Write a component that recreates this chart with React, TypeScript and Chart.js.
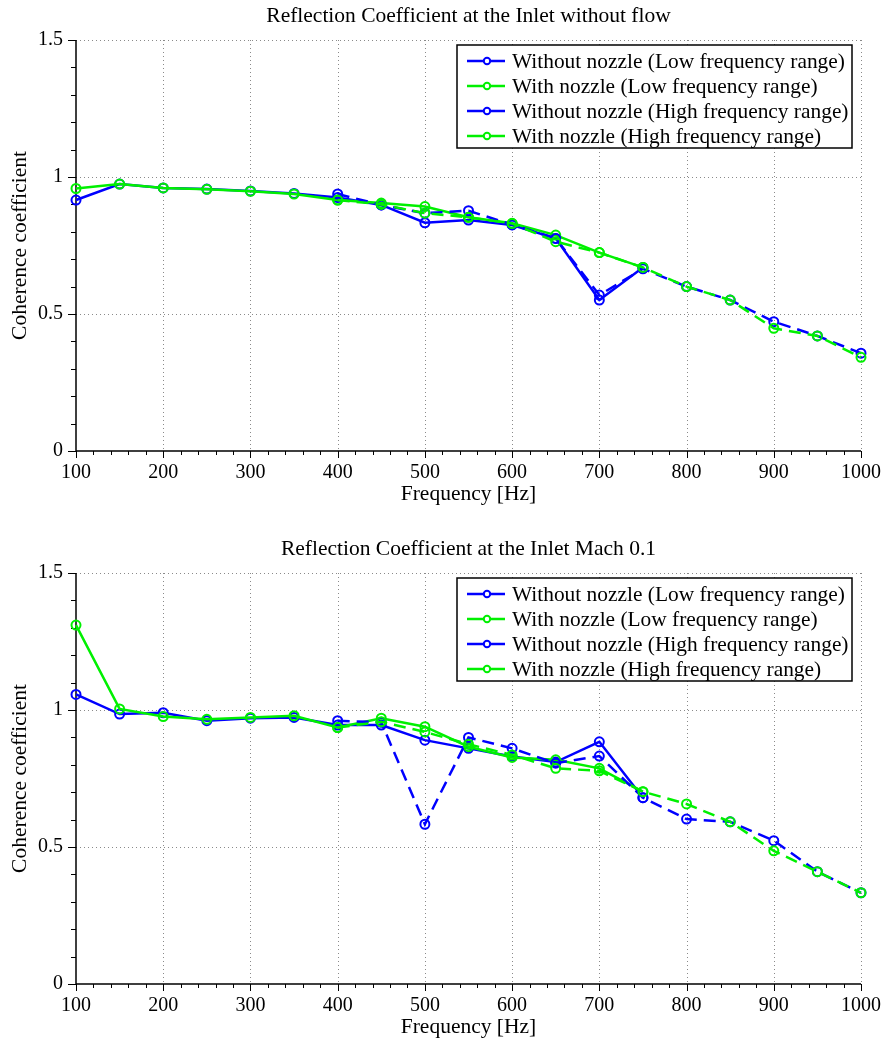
import React, { useEffect, useRef } from "react";
import { Chart, registerables } from "chart.js";
Chart.register(...registerables);

const freqLow = [100, 150, 200, 250, 300, 350, 400, 450, 500, 550, 600, 650, 700, 750];
const freqHigh = [400, 450, 500, 550, 600, 650, 700, 750, 800, 850, 900, 950, 1000];

const topWithoutLow = [0.916, 0.974, 0.96, 0.956, 0.949, 0.94, 0.925, 0.898, 0.833, 0.843, 0.825, 0.776, 0.551, 0.67];
const topWithLow = [0.958, 0.974, 0.96, 0.955, 0.948, 0.938, 0.916, 0.905, 0.892, 0.853, 0.831, 0.788, 0.724, 0.67];
const topWithoutHigh = [0.938, 0.898, 0.868, 0.877, 0.826, 0.776, 0.569, 0.665, 0.6, 0.551, 0.472, 0.42, 0.357];
const topWithHigh = [0.916, 0.9, 0.868, 0.853, 0.83, 0.764, 0.724, 0.67, 0.6, 0.551, 0.448, 0.42, 0.342];

const botWithoutLow = [1.057, 0.985, 0.99, 0.961, 0.97, 0.973, 0.945, 0.945, 0.89, 0.86, 0.83, 0.81, 0.884, 0.68];
const botWithLow = [1.31, 1.004, 0.976, 0.966, 0.973, 0.979, 0.936, 0.97, 0.939, 0.866, 0.827, 0.818, 0.787, 0.702];
const botWithoutHigh = [0.961, 0.955, 0.583, 0.9, 0.86, 0.806, 0.832, 0.68, 0.602, 0.592, 0.523, 0.41, 0.333];
const botWithHigh = [0.936, 0.957, 0.92, 0.875, 0.836, 0.787, 0.778, 0.702, 0.657, 0.592, 0.486, 0.41, 0.333];

const legendLabels = [
  "Without nozzle (Low frequency range)",
  "With nozzle (Low frequency range)",
  "Without nozzle (High frequency range)",
  "With nozzle (High frequency range)",
];
const chartTitles = [
  "Reflection Coefficient at the Inlet without flow",
  "Reflection Coefficient at the Inlet Mach 0.1",
];
const xTitle = "Frequency [Hz]";
const yTitle = "Coherence coefficient";
const xTicks = [100, 200, 300, 400, 500, 600, 700, 800, 900, 1000];
const yTicks = [0, 0.5, 1, 1.5];

const BLUE = "#0000ff";
const GREEN = "#00f000";
const FONT = "'Liberation Serif', 'DejaVu Serif', serif";
const seriesColors = [BLUE, GREEN, BLUE, GREEN];
const seriesDashed = [false, false, true, true];

function pts(xs: number[], ys: number[]) {
  return xs.map((x, i) => ({ x, y: ys[i] }));
}

function makeConfig(title: string, series: number[][], xs: number[][], xAxisH: number, padTop: number) {
  const datasets = series.map((ys, i) => ({
    label: legendLabels[i],
    data: pts(xs[i], ys),
    borderColor: seriesColors[i],
    backgroundColor: "rgba(0,0,0,0)",
    pointBackgroundColor: "rgba(0,0,0,0)",
    pointBorderColor: seriesColors[i],
    pointRadius: 4.5,
    pointBorderWidth: 2,
    borderWidth: 2.5,
    borderDash: seriesDashed[i] ? [12, 7] : [],
    tension: 0,
    clip: false as any,
    order: 3 - i,
  }));

  const decor = {
    id: "decor",
    beforeDatasetsDraw(chart: any) {
      const ctx = chart.ctx;
      const a = chart.chartArea;
      const xs = chart.scales.x;
      const ys = chart.scales.y;
      ctx.save();
      // dotted grid
      ctx.strokeStyle = "#8a8a8a";
      ctx.lineWidth = 1;
      ctx.setLineDash([1, 3]);
      for (const v of xTicks) {
        if (v === 100) continue;
        const px = Math.round(xs.getPixelForValue(v)) + 0.5;
        ctx.beginPath();
        ctx.moveTo(px, a.top);
        ctx.lineTo(px, a.bottom);
        ctx.stroke();
      }
      for (const v of yTicks) {
        if (v === 0) continue;
        const py = Math.round(ys.getPixelForValue(v)) + 0.5;
        ctx.beginPath();
        ctx.moveTo(a.left, py);
        ctx.lineTo(a.right, py);
        ctx.stroke();
      }
      ctx.setLineDash([]);
      // axes
      ctx.strokeStyle = "#000";
      ctx.lineWidth = 1.5;
      ctx.beginPath();
      ctx.moveTo(a.left, a.top);
      ctx.lineTo(a.left, a.bottom);
      ctx.lineTo(a.right, a.bottom);
      ctx.stroke();
      // outward ticks
      ctx.lineWidth = 1;
      for (let k = 0; k <= 15; k++) {
        const py = Math.round(ys.getPixelForValue(k / 10)) + 0.5;
        const len = k % 5 === 0 ? 8 : 5;
        ctx.beginPath();
        ctx.moveTo(a.left, py);
        ctx.lineTo(a.left - len, py);
        ctx.stroke();
      }
      for (let v = 100; v <= 1000; v += 20) {
        const px = Math.round(xs.getPixelForValue(v)) + 0.5;
        const len = v % 100 === 0 ? 7 : 4;
        ctx.beginPath();
        ctx.moveTo(px, a.bottom);
        ctx.lineTo(px, a.bottom + len);
        ctx.stroke();
      }
      ctx.restore();
    },
    afterDatasetsDraw(chart: any) {
      const ctx = chart.ctx;
      const a = chart.chartArea;
      ctx.save();
      // legend
      const lx = 457, ly = a.top + 5, lw = 395, lh = 103;
      ctx.fillStyle = "#fff";
      ctx.fillRect(lx, ly, lw, lh);
      ctx.strokeStyle = "#000";
      ctx.lineWidth = 1.5;
      ctx.strokeRect(lx, ly, lw, lh);
      ctx.font = `21.4px ${FONT}`;
      ctx.textBaseline = "middle";
      ctx.textAlign = "left";
      for (let i = 0; i < 4; i++) {
        const y = ly + 16 + i * 25;
        ctx.strokeStyle = seriesColors[i];
        ctx.lineWidth = 2.5;
        ctx.beginPath();
        ctx.moveTo(lx + 10, y);
        ctx.lineTo(lx + 48, y);
        ctx.stroke();
        ctx.lineWidth = 2;
        ctx.fillStyle = "#fff";
        ctx.beginPath();
        ctx.arc(lx + 30, y, 3.2, 0, Math.PI * 2);
        ctx.fill();
        ctx.stroke();
        ctx.fillStyle = "#000";
        ctx.fillText(legendLabels[i], lx + 55, y + 1);
      }
      // title
      const cx = (a.left + a.right) / 2;
      ctx.fillStyle = "#000";
      ctx.textAlign = "center";
      ctx.textBaseline = "middle";
      ctx.font = `21.5px ${FONT}`;
      ctx.fillText(title, cx, a.top - 24);
      // x title
      ctx.font = `21.5px ${FONT}`;
      ctx.fillText(xTitle, cx, a.bottom + 43);
      // y title
      ctx.translate(20, (a.top + a.bottom) / 2);
      ctx.rotate(-Math.PI / 2);
      ctx.fillText(yTitle, 0, 0);
      ctx.restore();
    },
  };

  return {
    type: "line" as const,
    data: { datasets },
    options: {
      animation: false as const,
      responsive: false,
      maintainAspectRatio: false,
      layout: { padding: { top: padTop, right: 24, bottom: 0, left: 0 } },
      plugins: { legend: { display: false }, title: { display: false }, tooltip: { enabled: false } },
      scales: {
        x: {
          type: "linear" as const,
          min: 100,
          max: 1000,
          afterFit: (s: any) => {
            s.height = xAxisH;
            s.paddingLeft = 0;
            s.paddingRight = 0;
          },
          afterBuildTicks: (s: any) => { s.ticks = xTicks.map((v) => ({ value: v })); },
          grid: { display: false, drawTicks: false },
          border: { display: false },
          ticks: {
            padding: 10,
            color: "#000",
            font: { family: FONT, size: 20 },
            callback: (v: any) => String(v),
            maxRotation: 0,
            autoSkip: false,
          },
        },
        y: {
          type: "linear" as const,
          min: 0,
          max: 1.5,
          afterFit: (s: any) => {
            s.width = 76;
            s.paddingTop = 0;
            s.paddingBottom = 0;
          },
          afterBuildTicks: (s: any) => { s.ticks = yTicks.map((v) => ({ value: v })); },
          grid: { display: false, drawTicks: false },
          border: { display: false },
          ticks: {
            padding: 13,
            color: "#000",
            font: { family: FONT, size: 20 },
            callback: (v: any) => String(v),
          },
        },
      },
    },
    plugins: [decor],
  };
}

function ChartBox(props: { title: string; series: number[][]; height: number; xAxisH: number; padTop: number }) {
  const ref = useRef<HTMLCanvasElement | null>(null);
  useEffect(() => {
    if (!ref.current) return;
    const cfg: any = makeConfig(props.title, props.series, [freqLow, freqLow, freqHigh, freqHigh], props.xAxisH, props.padTop);
    const chart = new Chart(ref.current, cfg);
    return () => chart.destroy();
  }, []);
  return <canvas ref={ref} width={885} height={props.height} style={{ display: "block", width: 885, height: props.height }} />;
}

export default function App() {
  return (
    <div style={{ position: "absolute", left: 0, top: 0, width: 885, height: 1045, background: "#fff" }}>
      <ChartBox title={chartTitles[0]} series={[topWithoutLow, topWithLow, topWithoutHigh, topWithHigh]} height={522} xAxisH={71} padTop={40} />
      <ChartBox title={chartTitles[1]} series={[botWithoutLow, botWithLow, botWithoutHigh, botWithHigh]} height={523} xAxisH={61} padTop={51} />
    </div>
  );
}
